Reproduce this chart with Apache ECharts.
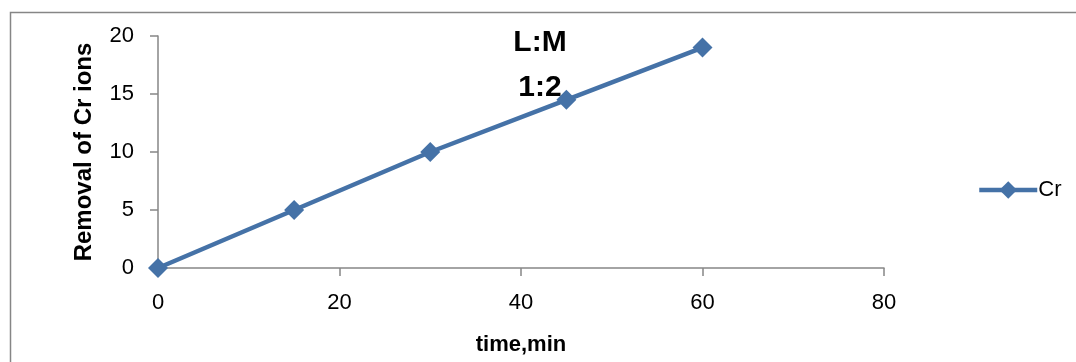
<!DOCTYPE html>
<html>
<head>
<meta charset="utf-8">
<script src="https://cdn.jsdelivr.net/npm/echarts@6/dist/echarts.min.js"></script>
<style>html,body{margin:0;padding:0;background:#fff;}#c{width:1076px;height:362px;}</style>
</head>
<body>
<div id="c"></div>
<script>
var seriesName = 'Cr';
var timeMin = [0, 15, 30, 45, 60];
var removalCr = [0, 5, 10, 14.5, 19];
var titleLines = ['L:M', '1:2'];
var xAxisName = 'time,min';
var yAxisName = 'Removal of Cr ions';

var chart = echarts.init(document.getElementById('c'), null, {renderer: 'canvas'});
var FONT = '"Liberation Sans", Arial, sans-serif';
var axisCol = '#868686';
var lineCol = '#4572A7';
chart.setOption({
  animation: false,
  backgroundColor: '#fff',
  grid: {left: 158, top: 36, right: 192, bottom: 94, containLabel: false},
  graphic: [
    {type: 'rect', shape: {x: 10.5, y: 12.5, width: 1100, height: 400}, style: {fill: 'none', stroke: axisCol, lineWidth: 1.5}, silent: true},
    {type: 'text', x: 540, y: 20, style: {text: titleLines.join('\n'), fontFamily: FONT, fontWeight: 'bold', fontSize: 30, lineHeight: 45, textAlign: 'center', fill: '#000'}}
  ],
  legend: {
    left: 972, top: 174, itemWidth: 58, itemHeight: 22, itemGap: 4,
    lineStyle: {width: 4.5},
    textStyle: {fontFamily: FONT, fontSize: 22, color: '#000', padding: [0,0,0,-4]},
    data: [seriesName]
  },
  xAxis: {
    type: 'value', min: 0, max: 80, interval: 20,
    name: xAxisName, nameLocation: 'middle', nameGap: 66,
    nameTextStyle: {fontFamily: FONT, fontWeight: 'bold', fontSize: 22, color: '#000'},
    axisLine: {show: true, lineStyle: {color: axisCol, width: 1.5}},
    axisTick: {show: true, inside: false, length: 8, lineStyle: {color: axisCol, width: 1.5}},
    axisLabel: {fontFamily: FONT, fontSize: 22, color: '#000', margin: 24},
    splitLine: {show: false}
  },
  yAxis: {
    type: 'value', min: 0, max: 20, interval: 5,
    name: yAxisName, nameLocation: 'middle', nameGap: 62, nameRotate: 90,
    nameTextStyle: {fontFamily: FONT, fontWeight: 'bold', fontSize: 24, color: '#000'},
    axisLine: {show: true, lineStyle: {color: axisCol, width: 1.5}},
    axisTick: {show: true, inside: false, length: 8, lineStyle: {color: axisCol, width: 1.5}},
    axisLabel: {fontFamily: FONT, fontSize: 22, color: '#000', margin: 24},
    splitLine: {show: false}
  },
  series: [{
    name: seriesName, type: 'line',
    data: timeMin.map(function (t, i) { return [t, removalCr[i]]; }),
    symbol: 'diamond', symbolSize: 20,
    lineStyle: {color: lineCol, width: 4.5},
    itemStyle: {color: lineCol},
    clip: false
  }]
});
</script>
</body>
</html>
